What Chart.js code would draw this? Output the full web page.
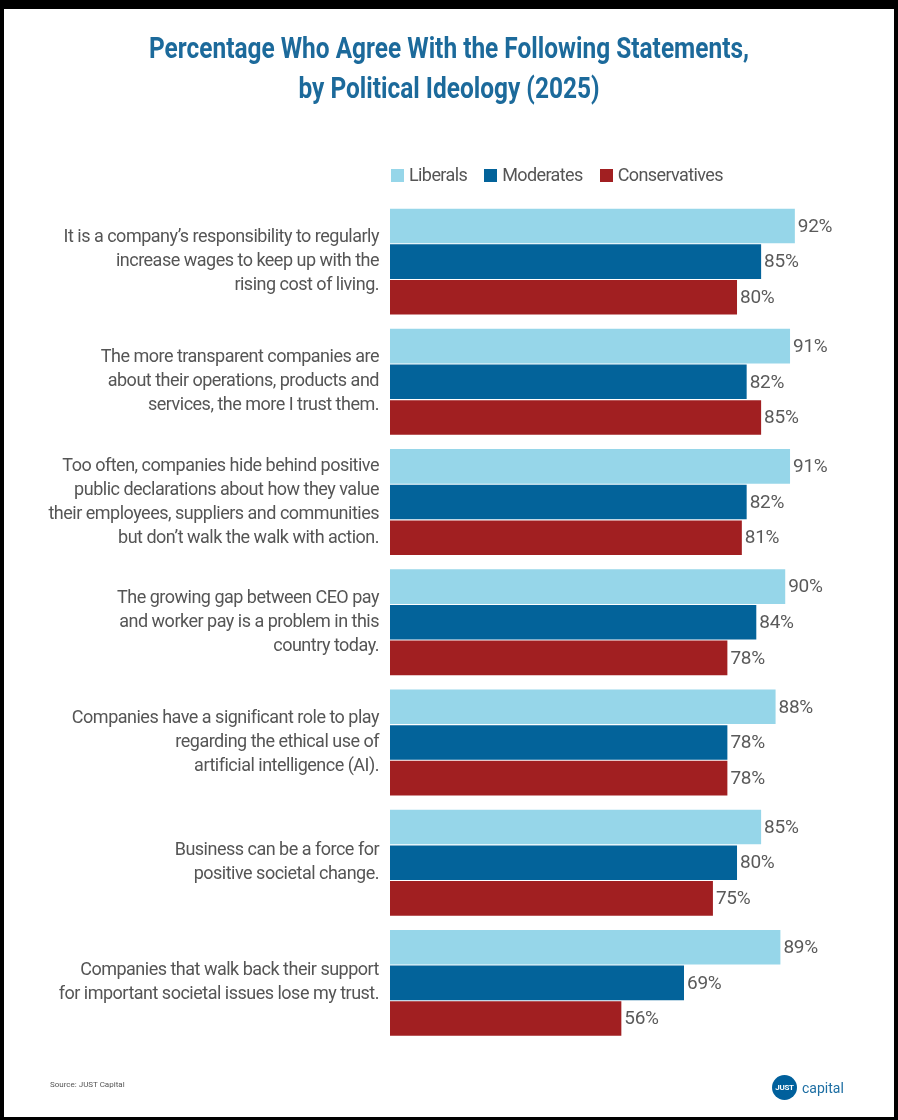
<!DOCTYPE html>
<html>
<head>
<meta charset="utf-8">
<script src="https://cdn.jsdelivr.net/npm/chart.js@4.4.1/dist/chart.umd.min.js"></script>
<style>
  body { margin: 0; background: #fff; }
  #wrap { position: relative; width: 898px; height: 1120px; overflow: hidden; font-family: Roboto, "Liberation Sans", sans-serif; }
  #frame { position: absolute; left: 0; top: 0; width: 898px; height: 1120px; box-sizing: border-box;
           border-style: solid; border-color: #000; border-width: 9px 4px 3px 4px; pointer-events: none; }
  #title { position: absolute; left: 0; top: 28px; width: 898px; text-align: center; color: #1c6a9b;
           font-weight: bold; font-size: 30px; line-height: 40px; transform-origin: 449px 0; white-space: nowrap; }
  #title span { display: inline-block; }
  #legend { position: absolute; top: 163px; left: 391px; display: flex; align-items: center; font-size: 18px;
            color: #555; letter-spacing: -0.6px; line-height: 24px; }
  #legend span.sw { display: inline-block; width: 13px; height: 13px; margin-right: 5px; }
  #legend span.item { display: flex; align-items: center; margin-right: 17px; }
  #source { position: absolute; left: 50px; top: 1080px; font-size: 8px; color: #555; }
  #logo { position: absolute; left: 772px; top: 1075px; display: flex; align-items: center; }
  #logo .dot { width: 25px; height: 25px; border-radius: 50%; background: #00609c; color: #fff; font-weight: bold;
               font-size: 8px; display: flex; align-items: center; justify-content: center; letter-spacing: -0.3px; }
  #logo .cap { margin-left: 5px; font-size: 14px; color: #1d6ea3; }
</style>
</head>
<body>
<div id="wrap">
  <canvas id="chart" width="898" height="1120"></canvas>
  <div id="title"><span id="t1">Percentage Who Agree With the Following Statements,</span><br><span>by Political Ideology (2025)</span></div>
  <div id="legend"></div>
  <div id="source">Source: JUST Capital</div>
  <div id="logo"><div class="dot">JUST</div><div class="cap">capital</div></div>
  <div id="frame"></div>
</div>
<script>
const statements = [
  ["It is a company’s responsibility to regularly", "increase wages to keep up with the", "rising cost of living."],
  ["The more transparent companies are", "about their operations, products and", "services, the more I trust them."],
  ["Too often, companies hide behind positive", "public declarations about how they value", "their employees, suppliers and communities", "but don’t walk the walk with action."],
  ["The growing gap between CEO pay", "and worker pay is a problem in this", "country today."],
  ["Companies have a significant role to play", "regarding the ethical use of", "artificial intelligence (AI)."],
  ["Business can be a force for", "positive societal change."],
  ["Companies that walk back their support", "for important societal issues lose my trust."]
];
const seriesNames = ["Liberals", "Moderates", "Conservatives"];
const liberals = [92, 91, 91, 90, 88, 85, 89];
const moderates = [85, 82, 82, 84, 78, 80, 69];
const conservatives = [80, 85, 81, 78, 78, 75, 56];
const colors = ["#96d6e9", "#03639a", "#a11f21"];

const FONT = "Roboto, 'Liberation Sans', sans-serif";

// title is a condensed face in the original, squeeze it to the same width
const title = document.getElementById("title");
const w1 = document.getElementById("t1").getBoundingClientRect().width;
title.style.transform = `scaleX(${600 / w1})`;

// legend
const legend = document.getElementById("legend");
seriesNames.forEach((name, i) => {
  const item = document.createElement("span");
  item.className = "item";
  item.innerHTML = `<span class="sw" style="background:${colors[i]}"></span>${name}`;
  legend.appendChild(item);
});

// tighter text for the axis labels
const tightText = {
  id: 'tightText',
  beforeDraw(chart) { chart.ctx.letterSpacing = '-0.5px'; }
};

// value labels at the end of each bar
const valueLabels = {
  id: 'valueLabels',
  afterDatasetsDraw(chart) {
    const ctx = chart.ctx;
    ctx.save();
    ctx.letterSpacing = '-0.3px';
    ctx.font = `19px ${FONT}`;
    ctx.fillStyle = '#5a5a5a';
    ctx.textAlign = 'left';
    ctx.textBaseline = 'middle';
    chart.data.datasets.forEach((ds, i) => {
      chart.getDatasetMeta(i).data.forEach((bar, j) => {
        ctx.fillText(ds.data[j] + '%', bar.x + 3, bar.y + 1);
      });
    });
    ctx.restore();
  }
};

const ctx = document.getElementById('chart').getContext('2d');
const chart = new Chart(ctx, {
  type: 'bar',
  data: {
    labels: statements,
    datasets: [liberals, moderates, conservatives].map((d, i) => ({
      label: seriesNames[i],
      data: d,
      backgroundColor: colors[i],
      borderWidth: 0,
      barPercentage: 0.97,
      categoryPercentage: 0.89
    }))
  },
  options: {
    indexAxis: 'y',
    responsive: false,
    animation: false,
    devicePixelRatio: 1,
    layout: { padding: { left: 0, right: 0, top: 201.5, bottom: 77 } },
    scales: {
      x: { display: false, min: 8, max: 113.4 },
      y: {
        grid: { display: false, drawTicks: false },
        border: { display: false },
        afterFit(scale) { scale.width = 390; },
        ticks: {
          padding: 11,
          color: '#555',
          font: { family: FONT, size: 18, lineHeight: '24px' }
        }
      }
    },
    plugins: {
      legend: { display: false },
      tooltip: { enabled: false },
      title: { display: false }
    }
  },
  plugins: [tightText, valueLabels]
});
</script>
</body>
</html>
